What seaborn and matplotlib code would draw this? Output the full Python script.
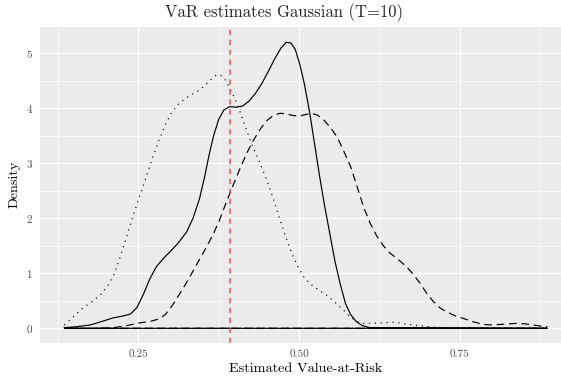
import matplotlib
matplotlib.use("Agg")
import matplotlib.pyplot as plt
import seaborn as sns
import pandas as pd

# ---- data ----
solid_x = [0.135, 0.155, 0.175, 0.195, 0.211, 0.225, 0.238, 0.248, 0.258, 0.268, 0.278,
           0.289, 0.300, 0.312, 0.325, 0.335, 0.345, 0.353, 0.360, 0.367, 0.375, 0.383,
           0.392, 0.402, 0.412, 0.422, 0.432, 0.442, 0.452, 0.462, 0.472, 0.480, 0.487,
           0.494, 0.501, 0.508, 0.516, 0.524, 0.532, 0.540, 0.548, 0.556, 0.564, 0.572,
           0.580, 0.589, 0.598, 0.610, 0.885]
solid_y = [0.01, 0.03, 0.06, 0.13, 0.19, 0.22, 0.26, 0.38, 0.62, 0.90, 1.12,
           1.27, 1.40, 1.55, 1.75, 2.00, 2.35, 2.75, 3.15, 3.50, 3.80, 3.97,
           4.03, 4.02, 4.04, 4.13, 4.27, 4.45, 4.67, 4.90, 5.10, 5.20, 5.19,
           5.07, 4.80, 4.45, 3.95, 3.35, 2.75, 2.20, 1.70, 1.20, 0.80, 0.45,
           0.25, 0.12, 0.05, 0.01, 0.00]

dotted_x = [0.135, 0.150, 0.165, 0.180, 0.192, 0.203, 0.213, 0.222, 0.232, 0.242, 0.252,
            0.262, 0.272, 0.282, 0.292, 0.302, 0.312, 0.322, 0.333, 0.345, 0.355, 0.364,
            0.372, 0.378, 0.385, 0.393, 0.401, 0.410, 0.418, 0.428, 0.438, 0.448, 0.458,
            0.468, 0.478, 0.488, 0.498, 0.508, 0.518, 0.530, 0.543, 0.556, 0.569, 0.580,
            0.590, 0.600, 0.615, 0.630, 0.646, 0.660, 0.677, 0.693, 0.709, 0.725, 0.740,
            0.885]
dotted_y = [0.06, 0.22, 0.38, 0.50, 0.62, 0.78, 1.00, 1.30, 1.67, 2.05, 2.40,
            2.74, 3.10, 3.42, 3.70, 3.93, 4.07, 4.17, 4.25, 4.33, 4.43, 4.54,
            4.61, 4.60, 4.52, 4.35, 4.15, 3.88, 3.61, 3.30, 3.03, 2.75, 2.42,
            2.05, 1.70, 1.38, 1.12, 0.92, 0.80, 0.70, 0.60, 0.47, 0.33, 0.20,
            0.12, 0.09, 0.09, 0.10, 0.11, 0.09, 0.06, 0.04, 0.02, 0.01, 0.00,
            0.00]

dashed_x = [0.135, 0.180, 0.211, 0.232, 0.253, 0.270, 0.282, 0.292, 0.302, 0.315, 0.326,
            0.336, 0.346, 0.356, 0.366, 0.376, 0.387, 0.398, 0.408, 0.418, 0.429, 0.440,
            0.450, 0.460, 0.470, 0.480, 0.490, 0.499, 0.508, 0.518, 0.528, 0.538, 0.548,
            0.559, 0.569, 0.580, 0.590, 0.600, 0.610, 0.621, 0.631, 0.641, 0.654, 0.667,
            0.678, 0.688, 0.698, 0.709, 0.719, 0.729, 0.742, 0.755, 0.770, 0.786, 0.800,
            0.812, 0.826, 0.838, 0.852, 0.864, 0.875, 0.885]
dashed_y = [0.00, 0.00, 0.01, 0.05, 0.10, 0.13, 0.17, 0.25, 0.40, 0.64, 0.85,
            1.06, 1.27, 1.48, 1.70, 1.96, 2.30, 2.62, 2.90, 3.17, 3.42, 3.63,
            3.78, 3.87, 3.91, 3.90, 3.87, 3.86, 3.88, 3.91, 3.88, 3.79, 3.66,
            3.48, 3.23, 2.94, 2.58, 2.21, 1.92, 1.67, 1.50, 1.37, 1.25, 1.12,
            0.97, 0.82, 0.64, 0.48, 0.37, 0.30, 0.23, 0.18, 0.12, 0.07, 0.06,
            0.07, 0.08, 0.09, 0.08, 0.06, 0.04, 0.03]

true_var = 0.3925

title = "VaR estimates Gaussian (T=10)"
xlabel = "Estimated Value-at-Risk"
ylabel = "Density"
xticks = [0.25, 0.50, 0.75]
xticklabels = ["0.25", "0.50", "0.75"]
yticks = [0, 1, 2, 3, 4, 5]

# ---- style ----
sns.set_style("darkgrid")
plt.rcParams.update({
    "font.family": ["cmr10", "DejaVu Serif"],
    "axes.formatter.use_mathtext": True,
    "axes.facecolor": "#EBEBEB",
    "axes.edgecolor": "#EBEBEB",
    "grid.color": "white",
})

fig = plt.figure(figsize=(5.61, 3.78), dpi=100)
ax = fig.add_axes([40 / 561, 1 - 342.7 / 378, 530.9 / 561, (342.7 - 26.7) / 378])

def outline(xs, ys):
    x = list(xs) + [xs[-1], xs[0], xs[0]]
    y = list(ys) + [0.0, 0.0, ys[0]]
    return x, y

lw = 0.85
for xs, ys, dash in [(dashed_x, dashed_y, (6.5, 4)),
                     (dotted_x, dotted_y, (1, 4)),
                     (solid_x, solid_y, None)]:
    x, y = outline(xs, ys)
    df = pd.DataFrame({"x": x, "y": y})
    sns.lineplot(data=df, x="x", y="y", sort=False, estimator=None,
                 color="black", lw=lw, ax=ax)
    l = ax.lines[-1]
    if dash is not None:
        l.set_dashes(dash)
    l.set_solid_capstyle("butt")
    l.set_solid_joinstyle("round")
    l.set_dash_joinstyle("round")

ax.axvline(true_var, color="#FF3333", lw=1.1, alpha=0.85, dashes=(3.5, 3.0))

ax.set_xlim(0.0972, 0.9224)
ax.set_ylim(-0.262, 5.484)
ax.set_xticks(xticks)
ax.set_xticklabels(xticklabels)
ax.set_yticks(yticks)
ax.set_xticks([0.125, 0.375, 0.625, 0.875], minor=True)
ax.set_yticks([0.5, 1.5, 2.5, 3.5, 4.5], minor=True)
ax.grid(which="major", color="white", lw=1.0)
ax.grid(which="minor", color="white", lw=0.5)
ax.tick_params(which="major", length=3, width=0.6, color="#333333",
               labelcolor="#4D4D4D", labelsize=8, pad=2)
ax.tick_params(which="minor", length=0)
for s in ax.spines.values():
    s.set_visible(False)

ax.set_xlabel(xlabel, fontsize=10.2, color="black", labelpad=3)
ax.set_ylabel(ylabel, fontsize=10.2, color="black", labelpad=4)
fig.text(283.7 / 561, 1 - 13 / 378, title, fontsize=12, ha="center", va="center")

fig.savefig("out.png", dpi=100)
